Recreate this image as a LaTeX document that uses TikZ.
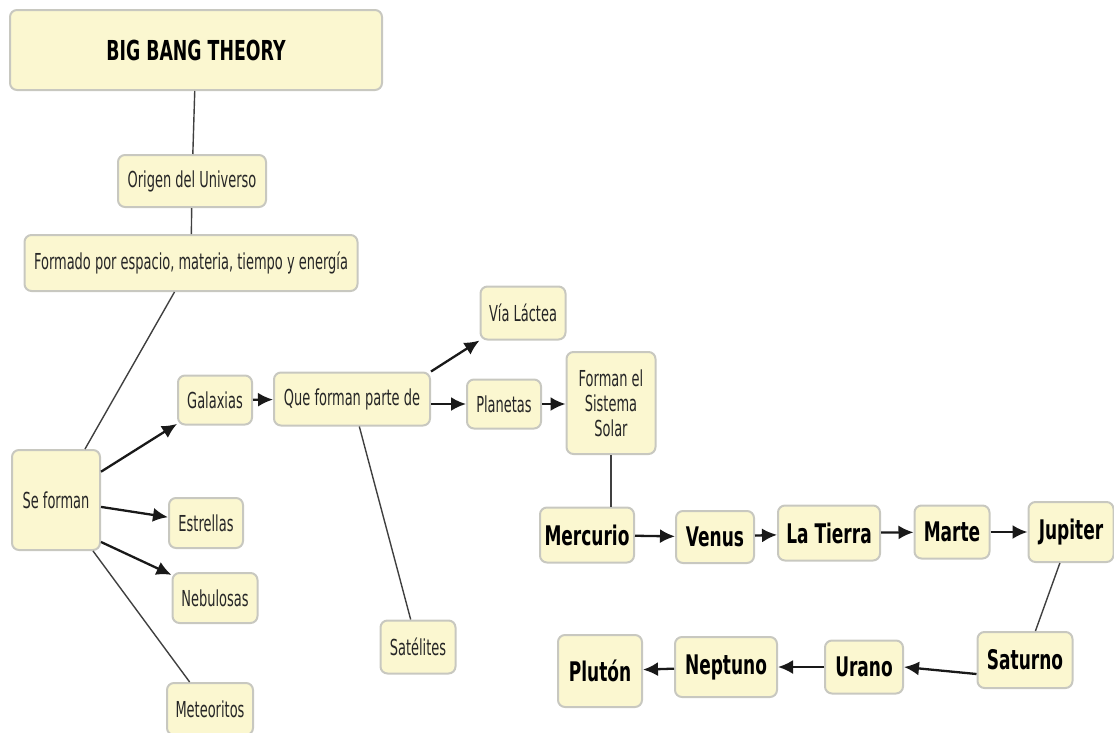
\documentclass[tikz,border=0pt]{standalone}
\usepackage{fontspec}
\setmainfont{DejaVu Sans}[FakeStretch=0.59, BoldFeatures={FakeStretch=0.63}]
\usetikzlibrary{arrows.meta,positioning}
\usepackage{xcolor}
\definecolor{boxfill}{RGB}{251,247,208}
\definecolor{boxedge}{RGB}{200,200,192}

\begin{document}
\begin{tikzpicture}[x=1pt,y=-1pt]
    \tikzstyle{concept} = [rectangle, rounded corners=7pt, draw=boxedge,
               line width=2pt, fill=boxfill, align=center, inner sep=2pt,
               text=black!85, font=\fontsize{22}{25}\selectfont]
    \tikzstyle{planet} = [concept, text=black,
               font=\fontsize{27}{30}\selectfont\bfseries]
    \tikzstyle{link} = [draw, black!75, line width=1.4pt]
    \tikzstyle{line} = [draw, black!90, line width=2.3pt,
               -{Latex[length=15pt,width=14pt]}]

    \useasboundingbox (0,0) rectangle (1114,732);

    % Top chain
    \node [concept, text=black, font=\fontsize{27.5}{30}\selectfont\bfseries,
           minimum width=372pt, minimum height=80pt] (bigbang) at (196,50) {BIG BANG THEORY};
    \node [concept, minimum width=148pt, minimum height=52pt] (origen) at (192,181) {Origen del Universo};
    \node [concept, minimum width=333pt, minimum height=56pt] (formado) at (191,263) {Formado por espacio, materia, tiempo y energía};

    % Left branch
    \node [concept, minimum width=88pt, minimum height=100pt] (seforman) at (56,500) {Se forman};
    \node [concept, minimum width=74pt, minimum height=49pt] (galaxias) at (215,400) {Galaxias};
    \node [concept, minimum width=74pt, minimum height=50pt] (estrellas) at (206,523) {Estrellas};
    \node [concept, minimum width=85pt, minimum height=50pt] (nebulosas) at (215,598) {Nebulosas};
    \node [concept, minimum width=86pt, minimum height=52pt] (meteoritos) at (210,709) {Meteoritos};

    % Middle
    \node [concept, minimum width=156pt, minimum height=53pt] (queforman) at (352,399) {Que forman parte de};
    \node [concept, minimum width=85pt, minimum height=53pt] (vialactea) at (523,313) {Vía Láctea};
    \node [concept, minimum width=74pt, minimum height=49pt] (planetas) at (504,404) {Planetas};
    \node [concept, minimum width=89pt, minimum height=102pt] (sistema) at (611,403) {Forman el\\Sistema\\Solar};
    \node [concept, minimum width=75pt, minimum height=53pt] (satelites) at (418,647) {Satélites};

    % Planets
    \node [planet, minimum width=94pt, minimum height=55pt] (mercurio) at (587,535) {Mercurio};
    \node [planet, minimum width=78pt, minimum height=52pt] (venus) at (715,537) {Venus};
    \node [planet, minimum width=102pt, minimum height=55pt] (tierra) at (829,533) {La Tierra};
    \node [planet, minimum width=75pt, minimum height=53pt] (marte) at (952,532) {Marte};
    \node [planet, minimum width=85pt, minimum height=60pt] (jupiter) at (1071,532) {Jupiter};
    \node [planet, minimum width=95pt, minimum height=56pt] (saturno) at (1025,660) {Saturno};
    \node [planet, minimum width=78pt, minimum height=53pt] (urano) at (864,667) {Urano};
    \node [planet, minimum width=102pt, minimum height=60pt] (neptuno) at (726,667) {Neptuno};
    \node [planet, minimum width=84pt, minimum height=72pt] (pluton) at (600,671) {Plutón};

    \draw [link] (bigbang) -- (origen);
    \draw [link] (origen) -- (formado);
    \draw [link] (formado) -- (seforman);

    \draw [line] (seforman) -- (galaxias);
    \draw [line] (seforman) -- (estrellas);
    \draw [line] (seforman.-43) -- (nebulosas.152);
    \draw [link] (seforman.-54) -- (meteoritos.127);

    \draw [line] (galaxias) -- (queforman);
    \draw [line] (queforman.north east) -- (vialactea.south west);
    \draw [line] ([yshift=-5pt]queforman.east) -- (planetas.west);
    \draw [link] (queforman) -- (satelites);
    \draw [line] (planetas) -- (planetas -| sistema.west);
    \draw [link] (sistema.south) -- (sistema.south |- mercurio.north);

    \draw [line] (mercurio) -- (venus);
    \draw [line] (venus) -- (tierra);
    \draw [line] (tierra) -- (marte);
    \draw [line] (marte) -- (jupiter);
    \draw [link] (jupiter) -- (saturno);
    \draw [line] ([yshift=-14pt]saturno.west) -- (urano.east);
    \draw [line] (urano) -- (neptuno);
    \draw [line] (neptuno) -- (pluton);

\end{tikzpicture}
\end{document}
